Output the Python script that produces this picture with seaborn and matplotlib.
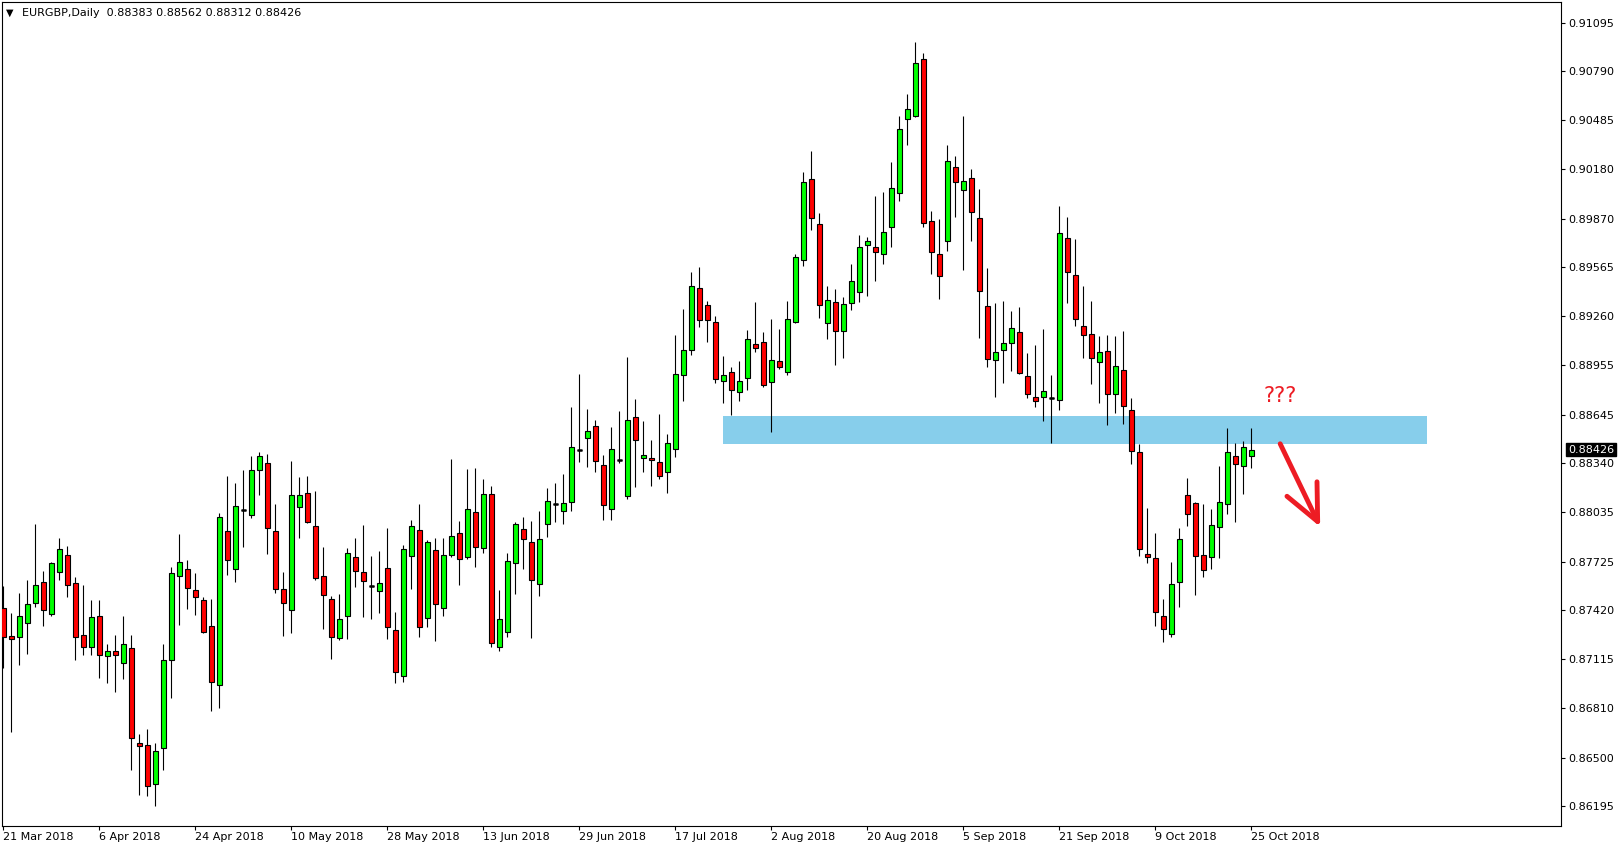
import numpy as np
import pandas as pd
import matplotlib
matplotlib.use("Agg")
import matplotlib.pyplot as plt
import seaborn as sns
from matplotlib.transforms import blended_transform_factory

sns.set_theme(style="white")
plt.rcParams["font.family"] = ["DejaVu Sans"]

# EURGBP daily candles, 21 Mar 2018 - 25 Oct 2018
opens = [
    0.87435, 0.87262, 0.87254, 0.87339, 0.87464, 0.87597, 0.87395, 0.87660, 0.87766, 0.87591,
    0.87266, 0.87191, 0.87385, 0.87135, 0.87166, 0.87091, 0.87185, 0.86591, 0.86579, 0.86336,
    0.86561, 0.87111, 0.87635, 0.87679, 0.87548, 0.87485, 0.87323, 0.86952, 0.87917, 0.87679,
    0.88046, 0.88017, 0.88298, 0.88342, 0.87917, 0.87554, 0.87423, 0.88067, 0.88154, 0.87948,
    0.87635, 0.87492, 0.87248, 0.87385, 0.87754, 0.87660, 0.87571, 0.87542, 0.87685, 0.87298,
    0.87010, 0.87760, 0.87922, 0.87372, 0.87797, 0.87435, 0.87766, 0.87904, 0.87754, 0.88035,
    0.87810, 0.88147, 0.87191, 0.87285, 0.87716, 0.87929, 0.87847, 0.87585, 0.87960, 0.88085,
    0.88041, 0.88098, 0.88425, 0.88498, 0.88573, 0.88329, 0.88054, 0.88362, 0.88135, 0.88629,
    0.88373, 0.88373, 0.88348, 0.88285, 0.88429, 0.88891, 0.89048, 0.89435, 0.89329, 0.89223,
    0.88854, 0.88910, 0.88785, 0.88873, 0.89085, 0.89098, 0.88848, 0.88979, 0.88910, 0.89223,
    0.89610, 0.90116, 0.89835, 0.89216, 0.89347, 0.89166, 0.89341, 0.89410, 0.89704, 0.89691,
    0.89647, 0.89816, 0.90029, 0.90491, 0.90510, 0.90866, 0.89854, 0.89647, 0.89729, 0.90192,
    0.90048, 0.90123, 0.89873, 0.89323, 0.88986, 0.89048, 0.89092, 0.89161, 0.88886, 0.88754,
    0.88754, 0.88746, 0.88736, 0.89748, 0.89517, 0.89198, 0.89147, 0.88972, 0.89041, 0.88772,
    0.88922, 0.88672, 0.88410, 0.87773, 0.87748, 0.87385, 0.87273, 0.87598, 0.88141, 0.88091,
    0.87766, 0.87754, 0.87941, 0.88086, 0.88385, 0.88323, 0.88383,
]
highs = [
    0.87575, 0.87404, 0.87529, 0.87612, 0.87962, 0.87668, 0.87724, 0.87874, 0.87824, 0.87629,
    0.87579, 0.87487, 0.87487, 0.87212, 0.87268, 0.87387, 0.87268, 0.86647, 0.86681, 0.86594,
    0.87213, 0.87694, 0.87900, 0.87738, 0.87654, 0.87504, 0.87492, 0.88029, 0.88262, 0.88219,
    0.88300, 0.88387, 0.88413, 0.88400, 0.88088, 0.87663, 0.88356, 0.88256, 0.88263, 0.88167,
    0.87817, 0.87510, 0.87523, 0.87810, 0.87873, 0.87954, 0.87760, 0.87792, 0.87935, 0.87410,
    0.87829, 0.87987, 0.88087, 0.87860, 0.87872, 0.87872, 0.88366, 0.87979, 0.88304, 0.88310,
    0.88241, 0.88197, 0.87547, 0.87779, 0.87972, 0.88004, 0.87979, 0.88041, 0.88185, 0.88216,
    0.88273, 0.88691, 0.88898, 0.88679, 0.88610, 0.88391, 0.88566, 0.88666, 0.89004, 0.88741,
    0.88604, 0.88485, 0.88648, 0.88523, 0.89141, 0.89304, 0.89535, 0.89566, 0.89354, 0.89260,
    0.89010, 0.88941, 0.88979, 0.89173, 0.89348, 0.89160, 0.89241, 0.89179, 0.89354, 0.89648,
    0.90160, 0.90291, 0.89904, 0.89447, 0.89429, 0.89379, 0.89585, 0.89766, 0.89754, 0.90010,
    0.90035, 0.90222, 0.90510, 0.90647, 0.90974, 0.90903, 0.89916, 0.89866, 0.90329, 0.90263,
    0.90513, 0.90179, 0.90054, 0.89561, 0.89342, 0.89354, 0.89292, 0.89317, 0.89029, 0.89079,
    0.89179, 0.88892, 0.89948, 0.89879, 0.89742, 0.89448, 0.89356, 0.89135, 0.89141, 0.89135,
    0.89166, 0.88747, 0.88460, 0.88060, 0.87904, 0.87491, 0.87723, 0.87935, 0.88248, 0.88096,
    0.88085, 0.88054, 0.88323, 0.88560, 0.88467, 0.88479, 0.88562,
]
lows = [
    0.87060, 0.86658, 0.87077, 0.87149, 0.87439, 0.87320, 0.87387, 0.87612, 0.87502, 0.87112,
    0.87139, 0.87139, 0.86995, 0.86964, 0.86908, 0.86989, 0.86420, 0.86264, 0.86258, 0.86196,
    0.86425, 0.86871, 0.87331, 0.87431, 0.87394, 0.87280, 0.86790, 0.86808, 0.87640, 0.87596,
    0.87815, 0.87996, 0.88140, 0.87771, 0.87527, 0.87258, 0.87277, 0.87871, 0.87967, 0.87610,
    0.87302, 0.87115, 0.87233, 0.87240, 0.87567, 0.87379, 0.87365, 0.87404, 0.87240, 0.86967,
    0.86973, 0.87552, 0.87252, 0.87314, 0.87227, 0.87383, 0.87754, 0.87577, 0.87739, 0.87689,
    0.87779, 0.87189, 0.87164, 0.87252, 0.87520, 0.87677, 0.87245, 0.87508, 0.87880, 0.87971,
    0.87958, 0.88039, 0.88348, 0.88314, 0.88283, 0.87983, 0.87983, 0.88339, 0.88116, 0.88189,
    0.88283, 0.88196, 0.88239, 0.88154, 0.88379, 0.88727, 0.89016, 0.89191, 0.89098, 0.88841,
    0.88714, 0.88639, 0.88727, 0.88796, 0.89035, 0.88816, 0.88533, 0.88929, 0.88891, 0.89216,
    0.89573, 0.89797, 0.89248, 0.89116, 0.88952, 0.88997, 0.89297, 0.89347, 0.89385, 0.89479,
    0.89585, 0.89691, 0.89979, 0.90329, 0.90505, 0.89816, 0.89522, 0.89366, 0.89666, 0.89877,
    0.89546, 0.89729, 0.89121, 0.88942, 0.88754, 0.88842, 0.88917, 0.88898, 0.88748, 0.88692,
    0.88604, 0.88467, 0.88673, 0.89342, 0.89198, 0.88998, 0.88833, 0.88714, 0.88577, 0.88652,
    0.88583, 0.88335, 0.87760, 0.87716, 0.87323, 0.87223, 0.87254, 0.87441, 0.87948, 0.87516,
    0.87629, 0.87679, 0.87748, 0.88021, 0.87971, 0.88146, 0.88312,
]
closes = [
    0.87254, 0.87241, 0.87385, 0.87460, 0.87579, 0.87422, 0.87716, 0.87804, 0.87579, 0.87254,
    0.87191, 0.87379, 0.87141, 0.87166, 0.87141, 0.87210, 0.86622, 0.86570, 0.86322, 0.86542,
    0.87111, 0.87654, 0.87723, 0.87560, 0.87504, 0.87285, 0.86973, 0.88004, 0.87735, 0.88073,
    0.88046, 0.88298, 0.88385, 0.87935, 0.87554, 0.87467, 0.88142, 0.88142, 0.87973, 0.87623,
    0.87517, 0.87254, 0.87367, 0.87779, 0.87667, 0.87604, 0.87571, 0.87592, 0.87317, 0.87035,
    0.87804, 0.87947, 0.87316, 0.87847, 0.87460, 0.87766, 0.87885, 0.87741, 0.88054, 0.87816,
    0.88147, 0.87216, 0.87366, 0.87729, 0.87960, 0.87866, 0.87610, 0.87866, 0.88104, 0.88085,
    0.88089, 0.88441, 0.88425, 0.88541, 0.88354, 0.88079, 0.88429, 0.88362, 0.88610, 0.88485,
    0.88391, 0.88360, 0.88260, 0.88466, 0.88898, 0.89048, 0.89448, 0.89235, 0.89235, 0.88866,
    0.88891, 0.88798, 0.88854, 0.89116, 0.89060, 0.88829, 0.88985, 0.88941, 0.89241, 0.89629,
    0.90097, 0.89872, 0.89329, 0.89360, 0.89166, 0.89335, 0.89479, 0.89691, 0.89729, 0.89660,
    0.89785, 0.90060, 0.90429, 0.90553, 0.90841, 0.89841, 0.89660, 0.89510, 0.90229, 0.90098,
    0.90104, 0.89911, 0.89417, 0.88992, 0.89036, 0.89092, 0.89186, 0.88904, 0.88773, 0.88729,
    0.88792, 0.88746, 0.89779, 0.89536, 0.89242, 0.89142, 0.88997, 0.89035, 0.88772, 0.88947,
    0.88698, 0.88416, 0.87804, 0.87754, 0.87410, 0.87304, 0.87585, 0.87866, 0.88023, 0.87760,
    0.87673, 0.87954, 0.88098, 0.88410, 0.88335, 0.88442, 0.88426,
]

dates = pd.bdate_range("2018-03-21", "2018-10-25")
tick_labels = ["21 Mar 2018", "6 Apr 2018", "24 Apr 2018", "10 May 2018", "28 May 2018",
               "13 Jun 2018", "29 Jun 2018", "17 Jul 2018", "2 Aug 2018", "20 Aug 2018",
               "5 Sep 2018", "21 Sep 2018", "9 Oct 2018", "25 Oct 2018"]
ytick_labels = ["0.86195", "0.86500", "0.86810", "0.87115", "0.87420", "0.87725",
                "0.88035", "0.88340", "0.88645", "0.88955", "0.89260", "0.89565",
                "0.89870", "0.90180", "0.90485", "0.90790", "0.91095"]

title = "EURGBP,Daily  0.88383 0.88562 0.88312 0.88426"
zone_low, zone_high = 0.88458, 0.88637
zone_start, zone_end = 89.95, 177.9

df = pd.DataFrame({"date": dates, "open": opens, "high": highs,
                   "low": lows, "close": closes})
df["x"] = np.arange(len(df))
df["bottom"] = df[["open", "close"]].min(axis=1)
df["body"] = (df["close"] - df["open"]).abs()
df["color"] = np.where(df["close"] > df["open"], "#00ff00",
                       np.where(df["close"] < df["open"], "#ff0000", "black"))
doji = df[df["body"] == 0]

fig = plt.figure(figsize=(16.21, 8.5), dpi=100)
ax = fig.add_axes([2 / 1621, 24 / 850, 1559 / 1621, 824 / 850])

# resistance zone
ax.fill_between([zone_start, zone_end], zone_low, zone_high,
                color="#87ceeb", linewidth=0, zorder=1)

# candles
ax.vlines(df["x"], df["low"], df["high"], color="black", linewidth=0.8, zorder=2)
ax.bar(df["x"], df["body"], bottom=df["bottom"], width=0.58, color=df["color"],
       edgecolor="black", linewidth=0.8, zorder=3)
ax.hlines(doji["open"], doji["x"] - 0.3, doji["x"] + 0.3, color="black",
          linewidth=1.8, zorder=4)

ax.set_xlim(-0.16, 194.7)
ax.set_ylim(0.860724, 0.91224)

# x axis
ax.set_xticks(df["x"].iloc[::12])
ax.set_xticklabels(tick_labels, ha="left", fontsize=8, color="black")
ax.tick_params(axis="x", bottom=True, direction="out", length=3, width=0.8,
               pad=1.5, color="black")

# y axis on the right
ax.yaxis.tick_right()
ax.set_yticks([float(v) for v in ytick_labels])
ax.set_yticklabels(ytick_labels, fontsize=8, color="black")
ax.tick_params(axis="y", right=True, left=False, direction="out", length=3,
               width=0.8, pad=2.5, color="black")

for s in ax.spines.values():
    s.set_color("black")
    s.set_linewidth(0.8)

# last price marker
trans = blended_transform_factory(ax.transAxes, ax.transData)
ax.annotate(f"{closes[-1]:.5f}", xy=(1.0, closes[-1]), xycoords=trans,
            xytext=(5, 0), textcoords="offset points", ha="left", va="center",
            fontsize=8, color="white", annotation_clip=False,
            bbox=dict(boxstyle="square,pad=0.15", facecolor="black", edgecolor="black"))

# header
ax.annotate("\u25bc", xy=(0, 1), xycoords="axes fraction", xytext=(2.5, -8),
            textcoords="offset points", ha="left", va="center", fontsize=7, color="black")
ax.annotate(title, xy=(0, 1), xycoords="axes fraction", xytext=(14.5, -8),
            textcoords="offset points", ha="left", va="center", fontsize=8, color="black")

# question marks and arrow
ax.text(159.6, 0.88762, "???", color="#ed1c24", fontsize=15, ha="center", va="center")
ax.annotate("", xy=(164.6, 0.87943), xytext=(159.6, 0.88462),
            arrowprops=dict(arrowstyle="->,head_length=1.3,head_width=0.6",
                            color="#ed1c24", lw=3.5, mutation_scale=20,
                            shrinkA=0, shrinkB=0))

fig.savefig("out.png", dpi=100)
